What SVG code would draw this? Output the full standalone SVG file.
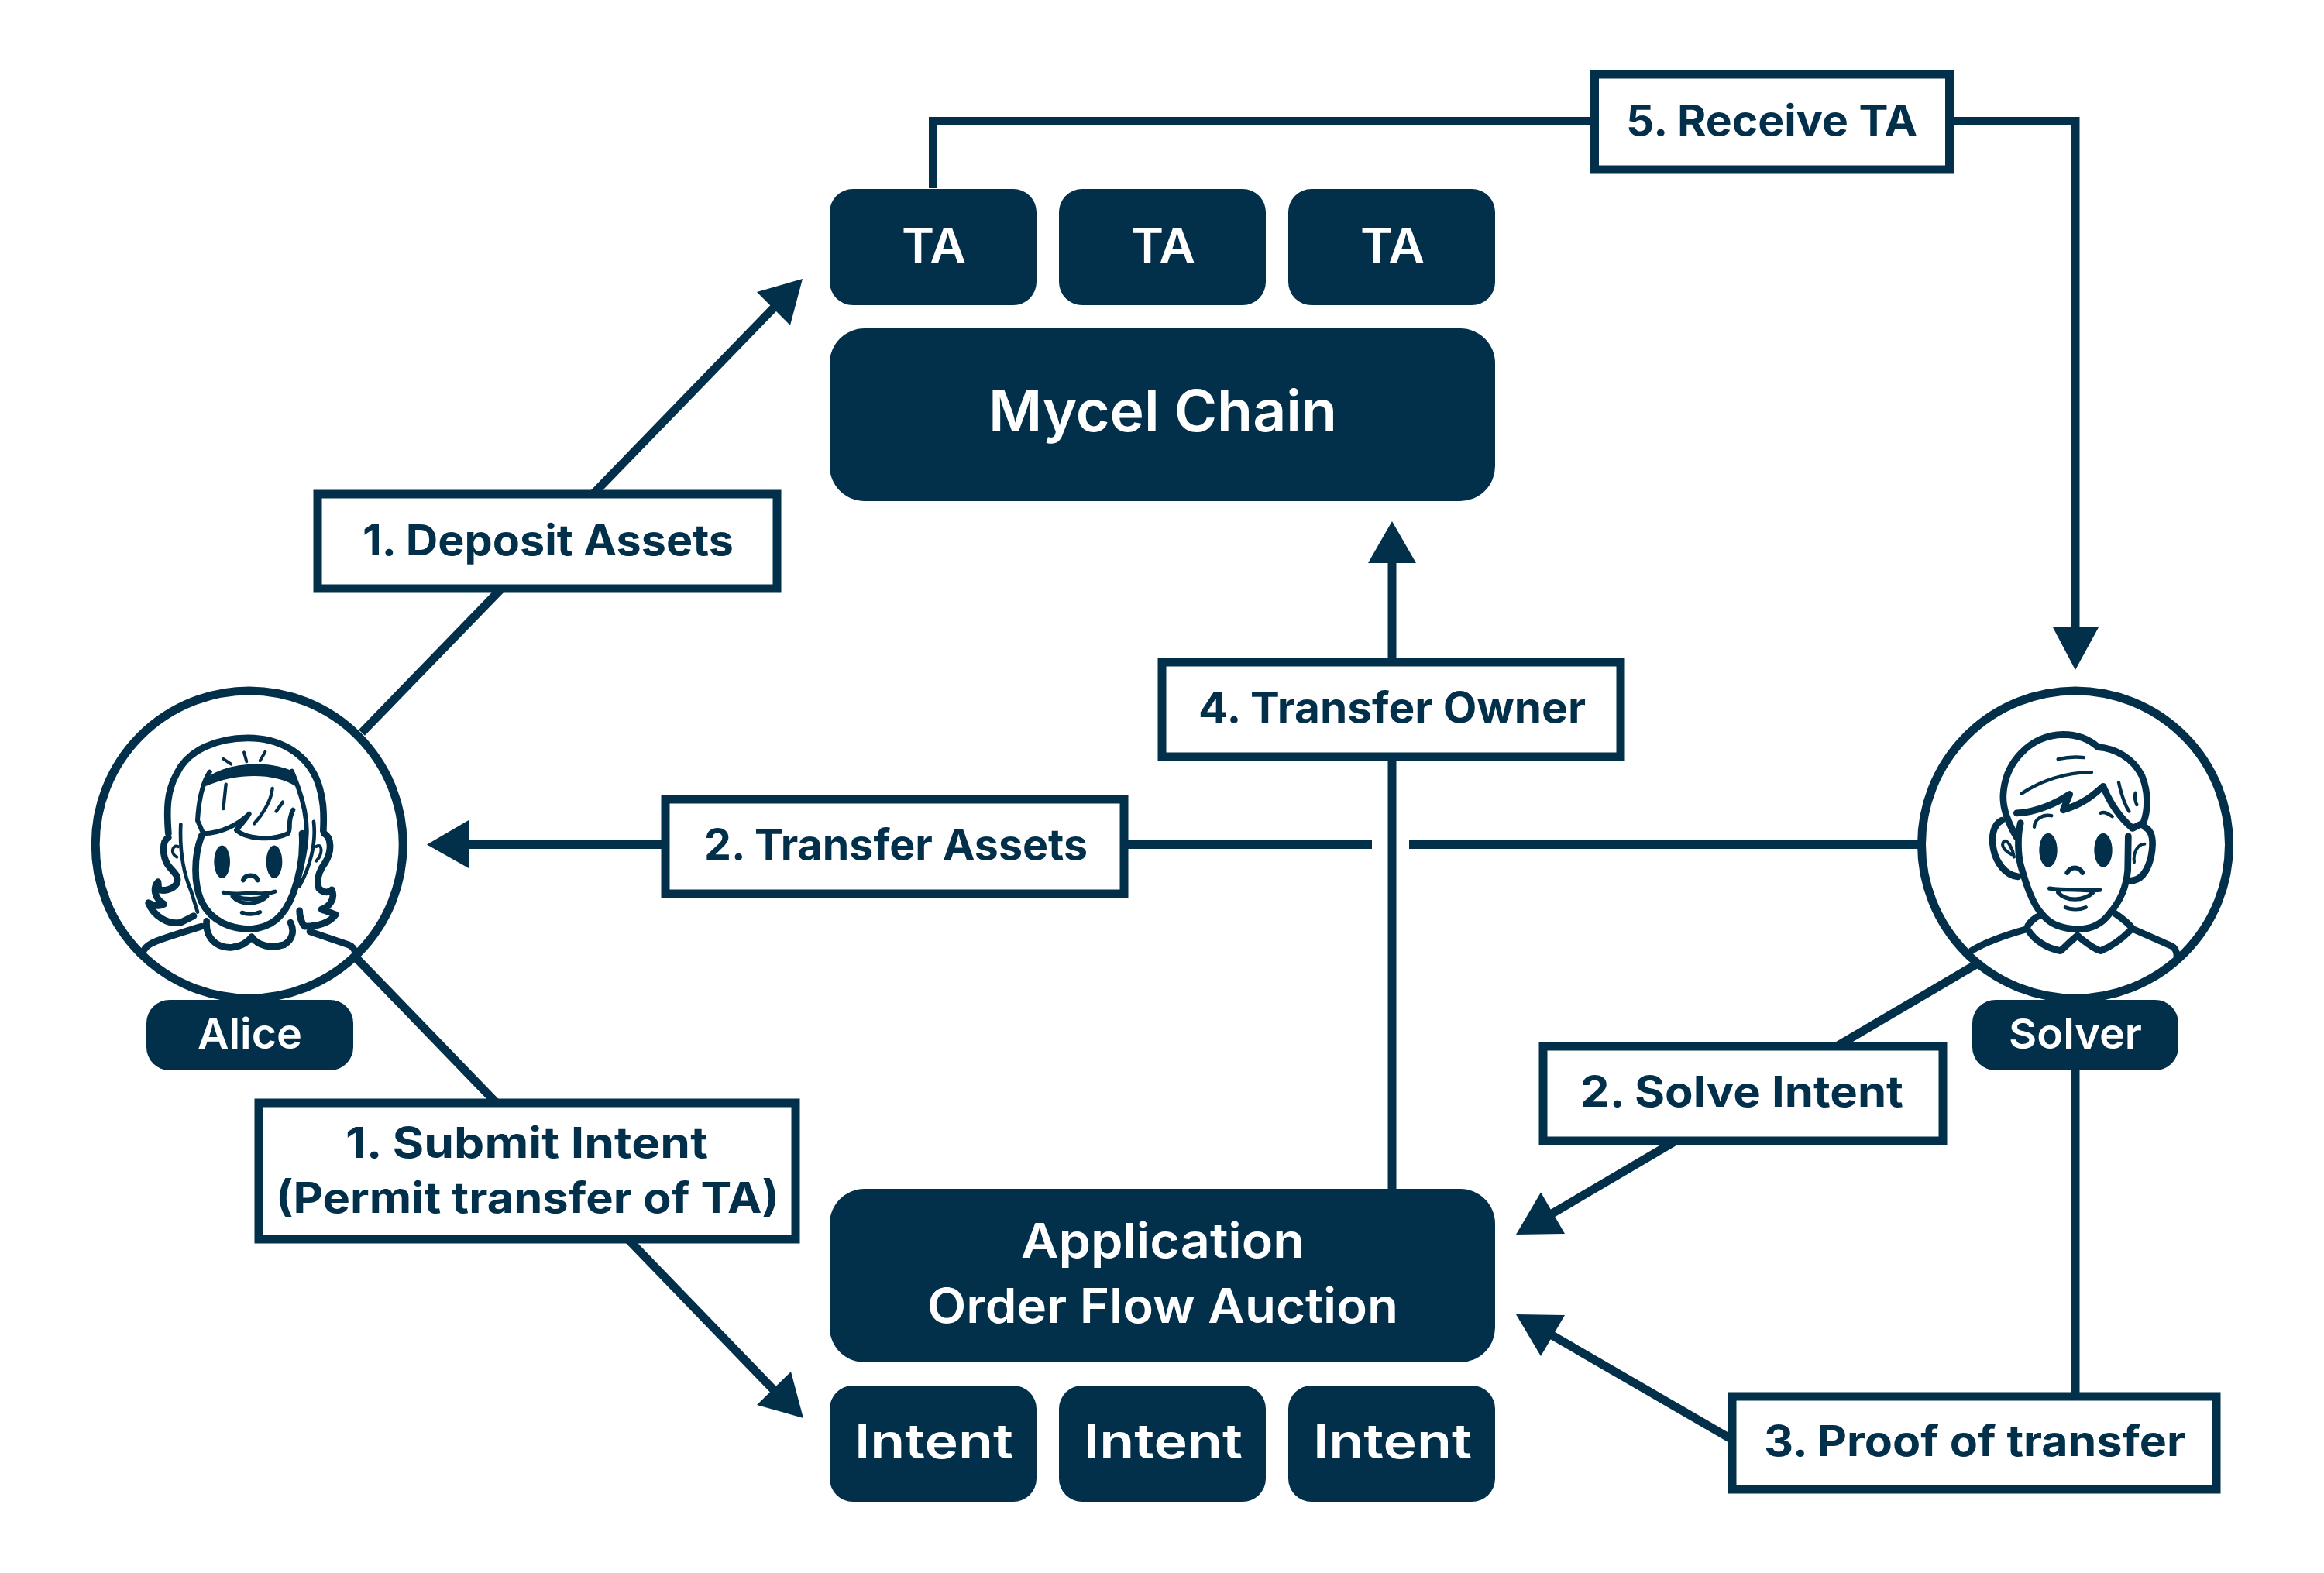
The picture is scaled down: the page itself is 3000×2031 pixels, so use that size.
<svg xmlns="http://www.w3.org/2000/svg" width="3000" height="2031" viewBox="0 0 3000 2031">
<style>
.c{fill:none;stroke:#02304b;stroke-width:11}
.h{fill:#02304b}
.b{fill:#fff;stroke:#02304b;stroke-width:11}
.d{fill:#02304b}
.f{fill:none;stroke:#02304b;stroke-width:26;stroke-linecap:round;stroke-linejoin:round}
.t{fill:#02304b;stroke:none}
text{font-family:"Inter","Noto Sans","Liberation Sans",sans-serif}
.l{font-size:55px;font-weight:700;fill:#02304b}
.w{font-weight:600;fill:#fff}
</style>
<rect width="3000" height="2031" fill="#fff"/>
<g id="connectors">
<path class="c" d="M467 946L1005 391"/><path class="h" d="M1036 360L1020 420L977 377Z"/>
<path class="c" d="M460 1237L1003 1799"/><path class="h" d="M1037 1831L977 1814L1021 1771Z"/>
<path class="c" d="M1204.500 243V156.500H2679V815"/><path class="h" d="M2679 865L2650 810H2709Z"/>
<path class="c" d="M1797 1535V720"/><path class="h" d="M1797 673L1766 727H1828Z"/>
<path class="c" d="M2478 1090.500H1819M1771 1090.500H600"/><path class="h" d="M551 1090.500L605 1059V1121Z"/>
<path class="c" d="M2553 1244L2000 1569"/><path class="h" d="M1957 1594L1989 1539.500L2020 1593Z"/>
<path class="c" d="M2679 1375V1800M2233 1857L2000 1722"/><path class="h" d="M1957 1697L2020 1698L1989 1751Z"/>
</g>
<g id="ta1"><rect class="d" x="1071" y="244" width="267" height="150" rx="30"/><text class="w" font-size="62" x="1164" y="339" textLength="83" lengthAdjust="spacingAndGlyphs">TA</text></g>
<g id="ta2"><rect class="d" x="1367" y="244" width="267" height="150" rx="30"/><text class="w" font-size="62" x="1460" y="339" textLength="83" lengthAdjust="spacingAndGlyphs">TA</text></g>
<g id="ta3"><rect class="d" x="1663" y="244" width="267" height="150" rx="30"/><text class="w" font-size="62" x="1756" y="339" textLength="83" lengthAdjust="spacingAndGlyphs">TA</text></g>
<g id="mycel"><rect class="d" x="1071" y="424" width="859" height="223" rx="45"/><text class="w" font-size="74" x="1276" y="557" textLength="450" lengthAdjust="spacingAndGlyphs">Mycel Chain</text></g>
<g id="app"><rect class="d" x="1071" y="1535" width="859" height="224" rx="45"/><text class="w" font-size="62" x="1318" y="1624" textLength="366" lengthAdjust="spacingAndGlyphs">Application</text><text class="w" font-size="62" x="1197" y="1708" textLength="608" lengthAdjust="spacingAndGlyphs">Order Flow Auction</text></g>
<g id="intent1"><rect class="d" x="1071" y="1789" width="267" height="150" rx="30"/><text class="w" font-size="62" x="1103" y="1883" textLength="205" lengthAdjust="spacingAndGlyphs">Intent</text></g>
<g id="intent2"><rect class="d" x="1367" y="1789" width="267" height="150" rx="30"/><text class="w" font-size="62" x="1399" y="1883" textLength="205" lengthAdjust="spacingAndGlyphs">Intent</text></g>
<g id="intent3"><rect class="d" x="1663" y="1789" width="267" height="150" rx="30"/><text class="w" font-size="62" x="1695" y="1883" textLength="205" lengthAdjust="spacingAndGlyphs">Intent</text></g>
<g id="label-receive"><rect class="b" x="2058.500" y="96" width="458" height="123"/><text class="l" x="2099" y="175" textLength="376" lengthAdjust="spacingAndGlyphs">5. Receive TA</text></g>
<g id="label-deposit"><rect class="b" x="410" y="638" width="593" height="122"/><text class="l" x="468" y="717" textLength="479" lengthAdjust="spacingAndGlyphs">1. Deposit Assets</text></g>
<g id="label-owner"><rect class="b" x="1500" y="855" width="592" height="122"/><text class="l" x="1547" y="933" textLength="500" lengthAdjust="spacingAndGlyphs">4. Transfer Owner</text></g>
<g id="label-assets"><rect class="b" x="859" y="1032" width="592" height="122"/><text class="l" x="909" y="1110" textLength="495" lengthAdjust="spacingAndGlyphs">2. Transfer Assets</text></g>
<g id="label-solve"><rect class="b" x="1992" y="1351" width="516" height="122"/><text class="l" x="2040" y="1429" textLength="417" lengthAdjust="spacingAndGlyphs">2. Solve Intent</text></g>
<g id="label-submit"><rect class="b" x="334" y="1424" width="693" height="176"/><text class="l" x="446" y="1495" textLength="468" lengthAdjust="spacingAndGlyphs">1. Submit Intent</text><text class="l" x="356" y="1566" textLength="650" lengthAdjust="spacingAndGlyphs">(Permit transfer of TA)</text></g>
<g id="label-proof"><rect class="b" x="2236" y="1803" width="625" height="120"/><text class="l" x="2277" y="1880" textLength="544" lengthAdjust="spacingAndGlyphs">3. Proof of transfer</text></g>
<g id="alice">
<circle class="b" cx="321.700" cy="1090.500" r="198.500"/>
<g transform="translate(100 870) scale(.33333 .338)">
<path class="f" d="M352 610C345 520 345 450 385 380C430 290 540 245 660 245C780 245 880 300 925 400C955 470 955 540 952 600"/>
<path class="t" d="M505 395C570 345 720 325 825 368L845 430C770 380 620 375 495 430Z"/>
<path class="f" style="stroke-width:12" d="M565 325L595 345M645 300L655 335M727 298L707 332"/>
<path class="f" style="stroke-width:18" d="M512 375C475 430 468 510 465 560L487 610C560 610 630 570 665 535C650 560 630 580 615 597C650 630 750 640 815 610C830 590 810 570 835 520M830 372C860 440 890 530 887 610C885 680 860 780 840 830"/>
<path class="f" style="stroke-width:13" d="M575 422L565 515M755 438C750 490 710 545 685 572M795 490L770 525"/>
<path class="f" d="M480 620C450 700 450 800 480 870C520 950 600 975 670 975C750 970 800 930 835 840C865 760 875 690 870 610"/>
<path class="f" style="stroke-width:14" d="M400 575C395 680 410 760 440 830L465 910M915 565C925 650 900 740 860 810"/>
<ellipse class="t" cx="560" cy="718" rx="31" ry="63"/><ellipse class="t" cx="762" cy="718" rx="31" ry="63"/>
<path class="f" style="stroke-width:18" d="M642 788C650 765 690 765 698 788"/>
<path class="f" style="stroke-width:15" d="M565 835C600 845 630 838 665 838C700 838 730 845 765 832M600 850C630 885 700 885 735 850M615 852C650 862 690 862 725 852"/>
<path class="f" style="stroke-width:15" d="M637 912C660 920 685 920 707 910"/>
<path class="f" d="M352 625C325 640 330 700 350 730C372 760 395 770 385 800C370 825 335 830 315 825L312 795C290 820 300 860 335 880C320 890 295 885 275 875C295 925 350 960 400 950L450 925M955 610C985 625 985 680 960 720C930 760 925 790 935 820C955 840 975 835 985 825C1000 860 975 890 945 900C965 905 985 915 1000 920C970 960 920 965 880 965C865 950 860 920 860 905"/>
<path class="f" style="stroke-width:12" d="M390 660C365 650 360 690 385 700M925 660C950 645 950 690 925 715"/>
<path class="f" d="M258 1055C270 1030 300 1020 480 965M900 985L1050 1035C1065 1040 1075 1055 1075 1065M500 945C495 1010 540 1050 600 1045C640 1040 660 1025 675 1005C700 1040 750 1050 800 1035C835 1015 840 980 825 950"/>
</g>
</g>
<g id="alice-label"><rect class="d" x="189" y="1291" width="267" height="91" rx="30"/><text class="w" font-size="54" x="255" y="1354" textLength="135" lengthAdjust="spacingAndGlyphs">Alice</text></g>
<g id="solver">
<circle class="b" cx="2679" cy="1090.500" r="198.500"/>
<g transform="translate(2460 870) scale(.33333 .338)">
<path class="f" d="M430 625C385 550 375 500 378 460C385 340 480 235 610 232C670 232 710 250 745 280C810 285 880 320 915 390C940 450 940 520 920 570L878 590C830 550 790 490 765 430C720 470 680 500 610 520L635 460C590 490 510 530 430 532"/>
<path class="f" style="stroke-width:13" d="M590 326C625 318 660 316 690 320M448 458C520 410 620 375 720 376M825 415C835 460 845 495 865 525M890 455C885 470 890 490 895 500M498 585C500 555 530 535 565 542M755 532C770 525 785 535 800 545"/>
<path class="f" d="M445 570C432 620 435 690 445 730C465 800 490 880 530 920C570 970 630 975 670 975C720 975 760 955 790 915C830 870 855 810 860 750L862 620"/>
<path class="f" d="M372 560C340 575 330 620 340 670C350 720 385 770 435 775M925 585C960 600 960 650 950 700C935 760 910 790 870 790"/>
<path class="f" style="stroke-width:12" d="M410 690C390 680 365 660 380 640C395 630 415 670 420 700M885 720C880 680 900 650 925 650"/>
<ellipse class="t" cx="552" cy="674" rx="35" ry="65"/><ellipse class="t" cx="765" cy="674" rx="35" ry="65"/>
<path class="f" style="stroke-width:18" d="M625 760C640 735 670 735 685 760"/>
<path class="f" style="stroke-width:16" d="M557 820C590 825 620 825 655 825C690 825 720 830 752 826M590 835C620 870 690 870 725 835"/>
<path class="f" style="stroke-width:14" d="M618 892C640 902 675 902 698 892"/>
<path class="f" d="M255 1058C300 1030 380 1000 470 975C470 955 500 930 525 920M810 915C840 935 865 955 880 975L1030 1040C1050 1050 1050 1070 1050 1080M475 980C500 1020 550 1050 600 1058C620 1040 640 1020 665 1000C690 1020 725 1050 755 1058C800 1040 840 1010 870 980"/>
</g>
</g>
<g id="solver-label"><rect class="d" x="2546" y="1291" width="266" height="91" rx="30"/><text class="w" font-size="54" x="2593" y="1354" textLength="172" lengthAdjust="spacingAndGlyphs">Solver</text></g>
</svg>
